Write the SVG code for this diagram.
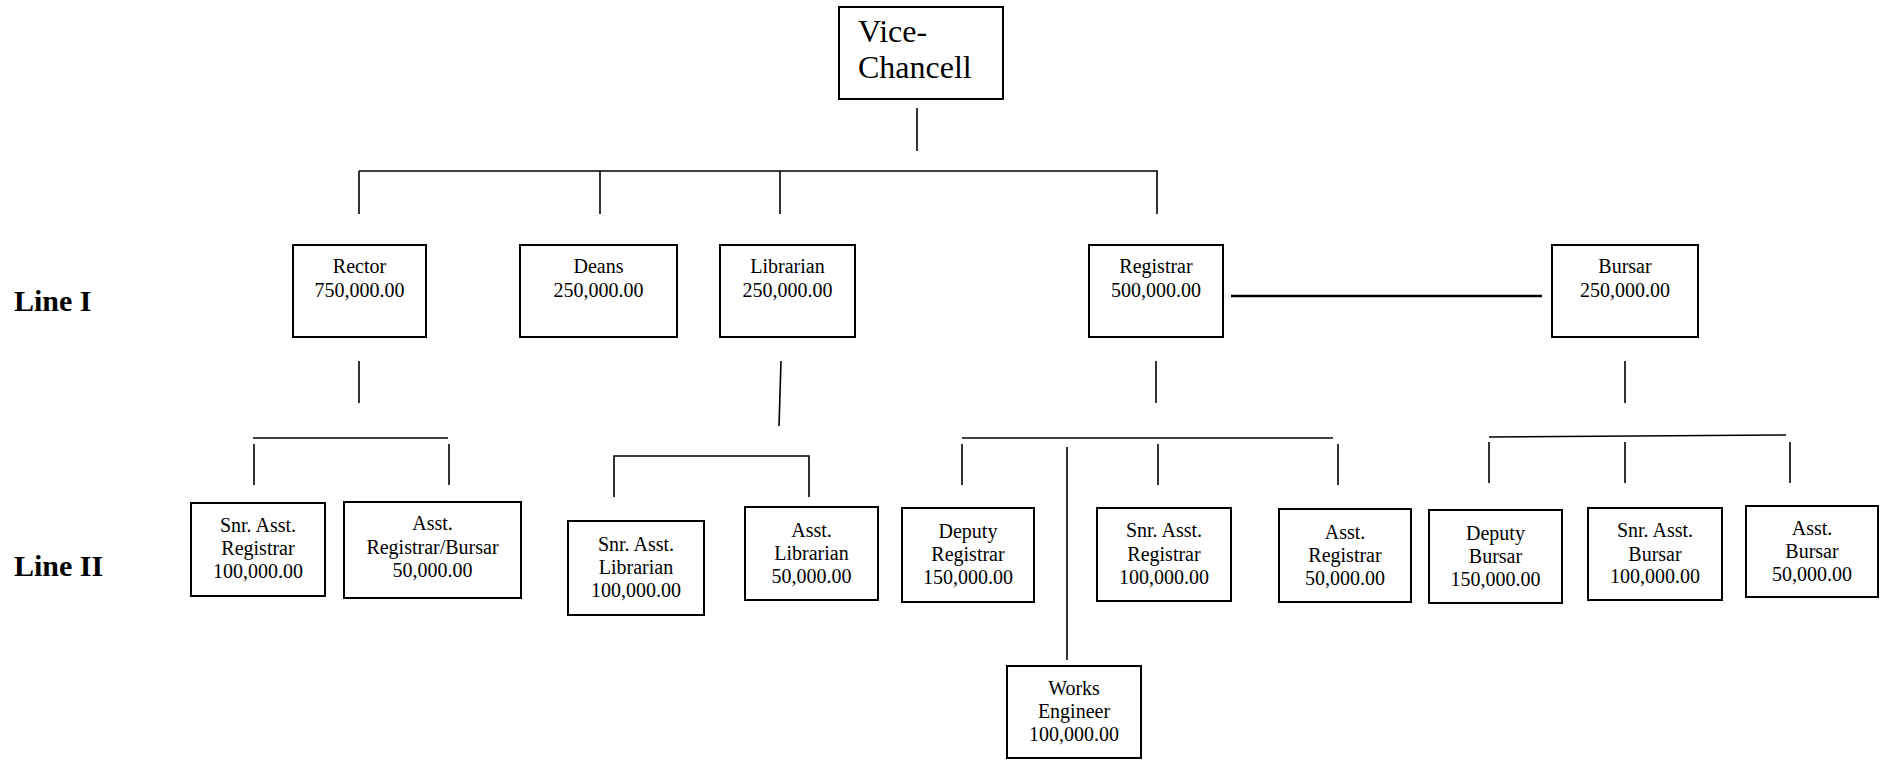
<svg xmlns="http://www.w3.org/2000/svg" width="1888" height="760" viewBox="0 0 1888 760">
<style>
  .box { fill: #ffffff; stroke: #000000; stroke-width: 2; }
  .t { font-family: "Liberation Serif", "Times New Roman", serif; font-size: 20px; fill: #000000; text-anchor: middle; }
  .vc { font-family: "Liberation Serif", "Times New Roman", serif; font-size: 32px; fill: #000000; }
  .lbl { font-family: "Liberation Serif", "Times New Roman", serif; font-size: 30px; font-weight: bold; fill: #000000; }
  .ln { stroke: #000000; stroke-width: 1.6; fill: none; }
  .ln2 { stroke: #000000; stroke-width: 2.6; fill: none; }
</style>
<rect width="1888" height="760" fill="#ffffff"/>

<g id="labels">
  <text class="lbl" x="14" y="311">Line I</text>
  <text class="lbl" x="14" y="576">Line II</text>
</g>

<g id="connectors">
  <line class="ln" x1="917" y1="108" x2="917" y2="151"/>
  <line class="ln" x1="359" y1="171" x2="1158" y2="171"/>
  <line class="ln" x1="359" y1="171" x2="359" y2="214"/>
  <line class="ln" x1="600" y1="171" x2="600" y2="214"/>
  <line class="ln" x1="780" y1="171" x2="780" y2="214"/>
  <line class="ln" x1="1157" y1="171" x2="1157" y2="214"/>

  <line class="ln2" x1="1231" y1="296" x2="1542" y2="296"/>

  <line class="ln" x1="359" y1="361" x2="359" y2="403"/>
  <line class="ln" x1="253" y1="438" x2="448" y2="438"/>
  <line class="ln" x1="254" y1="444" x2="254" y2="485"/>
  <line class="ln" x1="449" y1="444" x2="449" y2="485"/>

  <line class="ln" x1="781" y1="361" x2="779" y2="426"/>
  <polyline class="ln" points="614,497 614,456 809,456 809,497"/>

  <line class="ln" x1="1156" y1="361" x2="1156" y2="403"/>
  <line class="ln" x1="962" y1="438" x2="1333" y2="438"/>
  <line class="ln" x1="962" y1="444" x2="962" y2="485"/>
  <line class="ln" x1="1158" y1="444" x2="1158" y2="485"/>
  <line class="ln" x1="1338" y1="444" x2="1338" y2="485"/>
  <line class="ln" x1="1067" y1="447" x2="1067" y2="660"/>

  <line class="ln" x1="1625" y1="361" x2="1625" y2="403"/>
  <line class="ln" x1="1489" y1="437" x2="1786" y2="435"/>
  <line class="ln" x1="1489" y1="442" x2="1489" y2="483"/>
  <line class="ln" x1="1625" y1="442" x2="1625" y2="483"/>
  <line class="ln" x1="1790" y1="442" x2="1790" y2="483"/>
</g>

<g id="vice-chancellor">
  <rect class="box" x="839" y="7" width="164" height="92"/>
  <text class="vc" x="858" y="42">Vice-</text>
  <text class="vc" x="858" y="78">Chancell</text>
</g>

<g id="rector">
  <rect class="box" x="293" y="245" width="133" height="92"/>
  <text class="t" x="359.5" y="273">Rector</text>
  <text class="t" x="359.5" y="297">750,000.00</text>
</g>
<g id="deans">
  <rect class="box" x="520" y="245" width="157" height="92"/>
  <text class="t" x="598.5" y="273">Deans</text>
  <text class="t" x="598.5" y="297">250,000.00</text>
</g>
<g id="librarian">
  <rect class="box" x="720" y="245" width="135" height="92"/>
  <text class="t" x="787.5" y="273">Librarian</text>
  <text class="t" x="787.5" y="297">250,000.00</text>
</g>
<g id="registrar">
  <rect class="box" x="1089" y="245" width="134" height="92"/>
  <text class="t" x="1156" y="273">Registrar</text>
  <text class="t" x="1156" y="297">500,000.00</text>
</g>
<g id="bursar">
  <rect class="box" x="1552" y="245" width="146" height="92"/>
  <text class="t" x="1625" y="273">Bursar</text>
  <text class="t" x="1625" y="297">250,000.00</text>
</g>

<g id="snr-asst-registrar-rector">
  <rect class="box" x="191" y="503" width="134" height="93"/>
  <text class="t" x="258" y="532">Snr. Asst.</text>
  <text class="t" x="258" y="555">Registrar</text>
  <text class="t" x="258" y="578">100,000.00</text>
</g>
<g id="asst-registrar-bursar">
  <rect class="box" x="344" y="502" width="177" height="96"/>
  <text class="t" x="432.5" y="530">Asst.</text>
  <text class="t" x="432.5" y="554">Registrar/Bursar</text>
  <text class="t" x="432.5" y="577">50,000.00</text>
</g>
<g id="snr-asst-librarian">
  <rect class="box" x="568" y="521" width="136" height="94"/>
  <text class="t" x="636" y="551">Snr. Asst.</text>
  <text class="t" x="636" y="574">Librarian</text>
  <text class="t" x="636" y="597">100,000.00</text>
</g>
<g id="asst-librarian">
  <rect class="box" x="745" y="507" width="133" height="93"/>
  <text class="t" x="811.5" y="537">Asst.</text>
  <text class="t" x="811.5" y="560">Librarian</text>
  <text class="t" x="811.5" y="583">50,000.00</text>
</g>
<g id="deputy-registrar">
  <rect class="box" x="902" y="508" width="132" height="94"/>
  <text class="t" x="968" y="538">Deputy</text>
  <text class="t" x="968" y="561">Registrar</text>
  <text class="t" x="968" y="584">150,000.00</text>
</g>
<g id="snr-asst-registrar">
  <rect class="box" x="1097" y="508" width="134" height="93"/>
  <text class="t" x="1164" y="537">Snr. Asst.</text>
  <text class="t" x="1164" y="561">Registrar</text>
  <text class="t" x="1164" y="584">100,000.00</text>
</g>
<g id="asst-registrar">
  <rect class="box" x="1279" y="509" width="132" height="93"/>
  <text class="t" x="1345" y="539">Asst.</text>
  <text class="t" x="1345" y="562">Registrar</text>
  <text class="t" x="1345" y="585">50,000.00</text>
</g>
<g id="deputy-bursar">
  <rect class="box" x="1429" y="510" width="133" height="93"/>
  <text class="t" x="1495.5" y="540">Deputy</text>
  <text class="t" x="1495.5" y="563">Bursar</text>
  <text class="t" x="1495.5" y="586">150,000.00</text>
</g>
<g id="snr-asst-bursar">
  <rect class="box" x="1588" y="508" width="134" height="92"/>
  <text class="t" x="1655" y="537">Snr. Asst.</text>
  <text class="t" x="1655" y="561">Bursar</text>
  <text class="t" x="1655" y="583">100,000.00</text>
</g>
<g id="asst-bursar">
  <rect class="box" x="1746" y="506" width="132" height="91"/>
  <text class="t" x="1812" y="535">Asst.</text>
  <text class="t" x="1812" y="558">Bursar</text>
  <text class="t" x="1812" y="581">50,000.00</text>
</g>
<g id="works-engineer">
  <rect class="box" x="1007" y="666" width="134" height="92"/>
  <text class="t" x="1074" y="695">Works</text>
  <text class="t" x="1074" y="718">Engineer</text>
  <text class="t" x="1074" y="741">100,000.00</text>
</g>
</svg>
